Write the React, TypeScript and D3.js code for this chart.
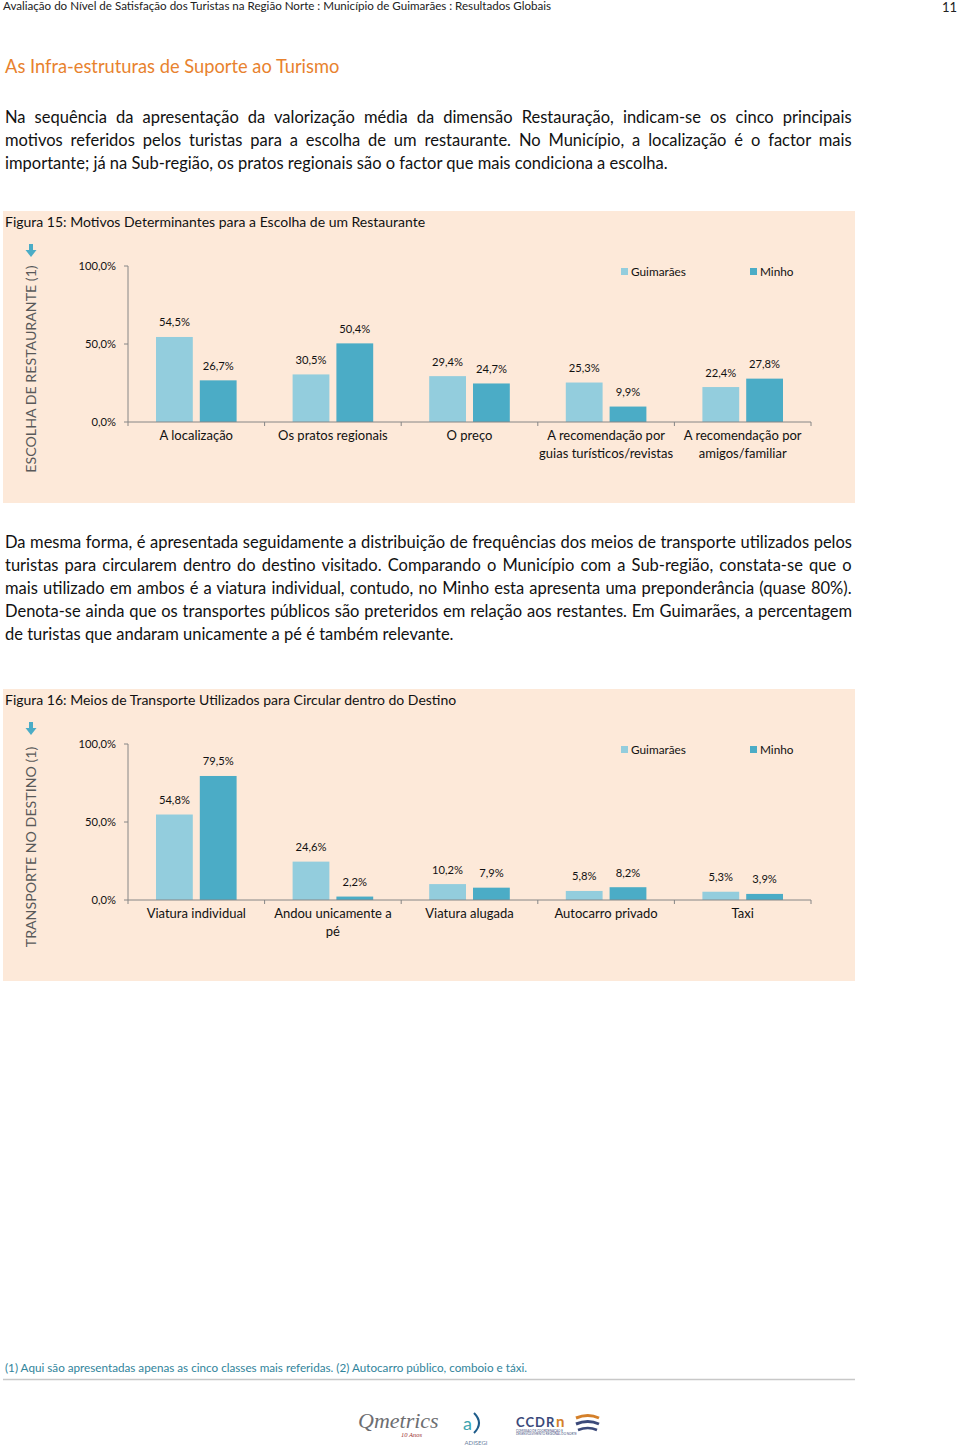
import React from "react";
import * as d3 from "d3";

const FONT = "Lato, 'Open Sans', sans-serif";

const seriesNames = ["Guimarães", "Minho"];
const yTickValues = [0, 50, 100];
const yTickLabels = ["0,0%", "50,0%", "100,0%"];

const categories1 = [
  ["A localização"],
  ["Os pratos regionais"],
  ["O preço"],
  ["A recomendação por", "guias turísticos/revistas"],
  ["A recomendação por", "amigos/familiar"],
];
const guimaraes1 = [54.5, 30.5, 29.4, 25.3, 22.4];
const minho1 = [26.7, 50.4, 24.7, 9.9, 27.8];

const categories2 = [
  ["Viatura individual"],
  ["Andou unicamente a", "pé"],
  ["Viatura alugada"],
  ["Autocarro privado"],
  ["Taxi"],
];
const guimaraes2 = [54.8, 24.6, 10.2, 5.8, 5.3];
const minho2 = [79.5, 2.2, 7.9, 8.2, 3.9];

const para1 = [
  "Na sequência da apresentação da valorização média da dimensão Restauração, indicam-se os cinco principais",
  "motivos referidos pelos turistas para a escolha de um restaurante. No Município, a localização é o factor mais",
  "importante; já na Sub-região, os pratos regionais são o factor que mais condiciona a escolha.",
];
const para2 = [
  "Da mesma forma, é apresentada seguidamente a distribuição de frequências dos meios de transporte utilizados pelos",
  "turistas para circularem dentro do destino visitado. Comparando o Município com a Sub-região, constata-se que o",
  "mais utilizado em ambos é a viatura individual, contudo, no Minho esta apresenta uma preponderância (quase 80%).",
  "Denota-se ainda que os transportes públicos são preteridos em relação aos restantes. Em Guimarães, a percentagem",
  "de turistas que andaram unicamente a pé é também relevante.",
];

const LIGHT = "#93CDDD";
const DARK = "#4BACC6";
const AXIS = "#868686";
const PANEL = "#FDE9D9";

let ctx: CanvasRenderingContext2D | null = null;
function measure(text: string, size: number) {
  if (!ctx) {
    const c = document.createElement("canvas");
    ctx = c.getContext("2d");
  }
  if (!ctx) return text.length * size * 0.5;
  ctx.font = `${size}px Lato`;
  return ctx.measureText(text).width;
}

function Paragraph({ lines, y0, size }: { lines: string[]; y0: number; size: number }) {
  const width = 847;
  return (
    <g>
      {lines.map((l, i) => {
        const last = i === lines.length - 1;
        let ws = 0;
        if (!last) {
          const w = measure(l, size);
          const spaces = (l.match(/ /g) || []).length;
          ws = spaces ? (width - w) / spaces : 0;
        }
        return (
          <text
            key={i}
            x={5}
            y={y0 + i * 23}
            fontSize={size}
            fill="#111"
            style={{ wordSpacing: `${ws}px` }}
          >
            {l}
          </text>
        );
      })}
    </g>
  );
}

function BarChart({
  top,
  title,
  yTitle,
  categories,
  g,
  m,
}: {
  top: number;
  title: string;
  yTitle: string;
  categories: string[][];
  g: number[];
  m: number[];
}) {
  const y0 = top + 211; // baseline (0%)
  const y = d3.scaleLinear().domain([0, 100]).range([y0, y0 - 156]);
  const keys = categories.map((c) => c.join(" "));
  const x = d3.scaleBand().domain(keys).range([128, 811]);
  const bw = x.bandwidth();
  const x1 = d3.scaleBand().domain(seriesNames).range([28, bw - 28]).paddingInner(0.16);
  const data = keys.map((k, i) => ({ k, vals: [g[i], m[i]] }));
  const fmt = (v: number) => v.toFixed(1).replace(".", ",") + "%";
  const boundaries = d3.range(keys.length + 1).map((i) => 128 + i * bw);
  const yTitleCenter = top + 158;
  return (
    <g>
      <rect x={3} y={top} width={852} height={292} fill={PANEL} />
      <text x={5} y={top + 15.5} fontSize={14} fill="#111">
        {title}
      </text>
      {/* arrow */}
      <g fill={DARK}>
        <rect x={29} y={top + 33} width={4} height={6} />
        <path d={`M25.5,${top + 39} L36.5,${top + 39} L31,${top + 46} Z`} />
      </g>
      <text
        transform={`translate(36,${yTitleCenter}) rotate(-90)`}
        textAnchor="middle"
        fontSize={14.2}
        fill="#595959"
      >
        {yTitle}
      </text>
      {/* y axis */}
      <line x1={128} x2={128} y1={y(100)} y2={y(0)} stroke={AXIS} strokeWidth={1} />
      {yTickValues.map((v, i) => (
        <g key={v}>
          <line x1={124} x2={128} y1={y(v)} y2={y(v)} stroke={AXIS} />
          <text x={116} y={y(v) + 4} textAnchor="end" fontSize={11.2} fill="#111">
            {yTickLabels[i]}
          </text>
        </g>
      ))}
      {/* bars */}
      {data.map((d) => (
        <g key={d.k} transform={`translate(${x(d.k)},0)`}>
          {d.vals.map((v, j) => (
            <g key={j}>
              <rect
                x={x1(seriesNames[j])}
                y={y(v)}
                width={x1.bandwidth()}
                height={y(0) - y(v)}
                fill={j === 0 ? LIGHT : DARK}
              />
              <text
                x={(x1(seriesNames[j]) as number) + x1.bandwidth() / 2}
                y={y(v) - 10.5}
                textAnchor="middle"
                fontSize={11.2}
                fill="#111"
              >
                {fmt(v)}
              </text>
            </g>
          ))}
        </g>
      ))}
      {/* x axis */}
      <line x1={128} x2={811} y1={y(0)} y2={y(0)} stroke={AXIS} />
      {boundaries.map((b, i) => (
        <line key={i} x1={b} x2={b} y1={y(0)} y2={y(0) + 4} stroke={AXIS} />
      ))}
      {categories.map((c, i) => (
        <text
          key={i}
          x={(x(keys[i]) as number) + bw / 2}
          y={y(0) + 17.5}
          textAnchor="middle"
          fontSize={13}
          fill="#111"
        >
          {c.map((line, li) => (
            <tspan key={li} x={(x(keys[i]) as number) + bw / 2} dy={li === 0 ? 0 : 18}>
              {line}
            </tspan>
          ))}
        </text>
      ))}
      {/* legend */}
      {seriesNames.map((s, i) => {
        const lx = i === 0 ? 621 : 750;
        return (
          <g key={s}>
            <rect x={lx} y={top + 57} width={7} height={7} fill={i === 0 ? LIGHT : DARK} />
            <text x={lx + 10} y={top + 64.5} fontSize={11.8} fill="#111">
              {s}
            </text>
          </g>
        );
      })}
    </g>
  );
}

export default function App() {
  return (
    <svg
      width={960}
      height={1449}
      style={{ position: "absolute", left: 0, top: 0, background: "#fff" }}
      fontFamily={FONT}
    >
      <text x={3} y={10} fontSize={11.6} fill="#222">
        Avaliação do Nível de Satisfação dos Turistas na Região Norte : Município de Guimarães : Resultados Globais
      </text>
      <text x={957} y={12} fontSize={13} fill="#222" textAnchor="end">
        11
      </text>
      <text x={5} y={73} fontSize={18.3} fill="#E8822E">
        As Infra-estruturas de Suporte ao Turismo
      </text>
      <Paragraph lines={para1} y0={122.5} size={16.5} />
      <BarChart
        top={211}
        title="Figura 15: Motivos Determinantes para a Escolha de um Restaurante"
        yTitle="ESCOLHA DE RESTAURANTE (1)"
        categories={categories1}
        g={guimaraes1}
        m={minho1}
      />
      <Paragraph lines={para2} y0={548} size={16.5} />
      <BarChart
        top={689}
        title="Figura 16: Meios de Transporte Utilizados para Circular dentro do Destino"
        yTitle="TRANSPORTE NO DESTINO (1)"
        categories={categories2}
        g={guimaraes2}
        m={minho2}
      />
      <text x={5} y={1372} fontSize={11.7} fill="#31849B">
        (1) Aqui são apresentadas apenas as cinco classes mais referidas. (2) Autocarro público, comboio e táxi.
      </text>
      <line x1={3} x2={855} y1={1379.5} y2={1379.5} stroke="#C8C8C8" strokeWidth={1.5} />
      {/* logos */}
      <g>
        <text x={358} y={1428} fontSize={22} fontFamily="'Liberation Serif', serif" fontStyle="italic" fill="#6D6E71">
          Qmetrics
        </text>
        <text x={401} y={1437} fontSize={6.5} fontFamily="'Liberation Serif', serif" fontStyle="italic" fill="#9B2F2F">
          10 Anos
        </text>
        <text x={463} y={1430} fontSize={18} fill="#3EA5B0">
          a
        </text>
        <path d="M474,1413 Q484,1423 474,1433" stroke="#1E5C8A" strokeWidth={2} fill="none" />
        <text x={476} y={1445} fontSize={6} fill="#6A7FA0" textAnchor="middle">
          ADISEGI
        </text>
        <text x={516} y={1427} fontSize={13} fontWeight="bold" fill="#3B4A7A" letterSpacing={1}>
          CCDR
        </text>
        <text x={556} y={1427} fontSize={15} fontWeight="bold" fill="#D4802A">
          n
        </text>
        <text x={516} y={1431.5} fontSize={3} fill="#3B4A7A">
          COMISSÃO DE COORDENAÇÃO E
        </text>
        <text x={516} y={1435} fontSize={3} fill="#3B4A7A">
          DESENVOLVIMENTO REGIONAL DO NORTE
        </text>
        <path d="M576,1418 Q588,1413 599,1418" stroke="#D4802A" strokeWidth={3} fill="none" />
        <path d="M576,1424 Q588,1419 599,1424" stroke="#3B4A7A" strokeWidth={3} fill="none" />
        <path d="M578,1430 Q588,1426 597,1430" stroke="#3B4A7A" strokeWidth={2.5} fill="none" />
      </g>
    </svg>
  );
}
